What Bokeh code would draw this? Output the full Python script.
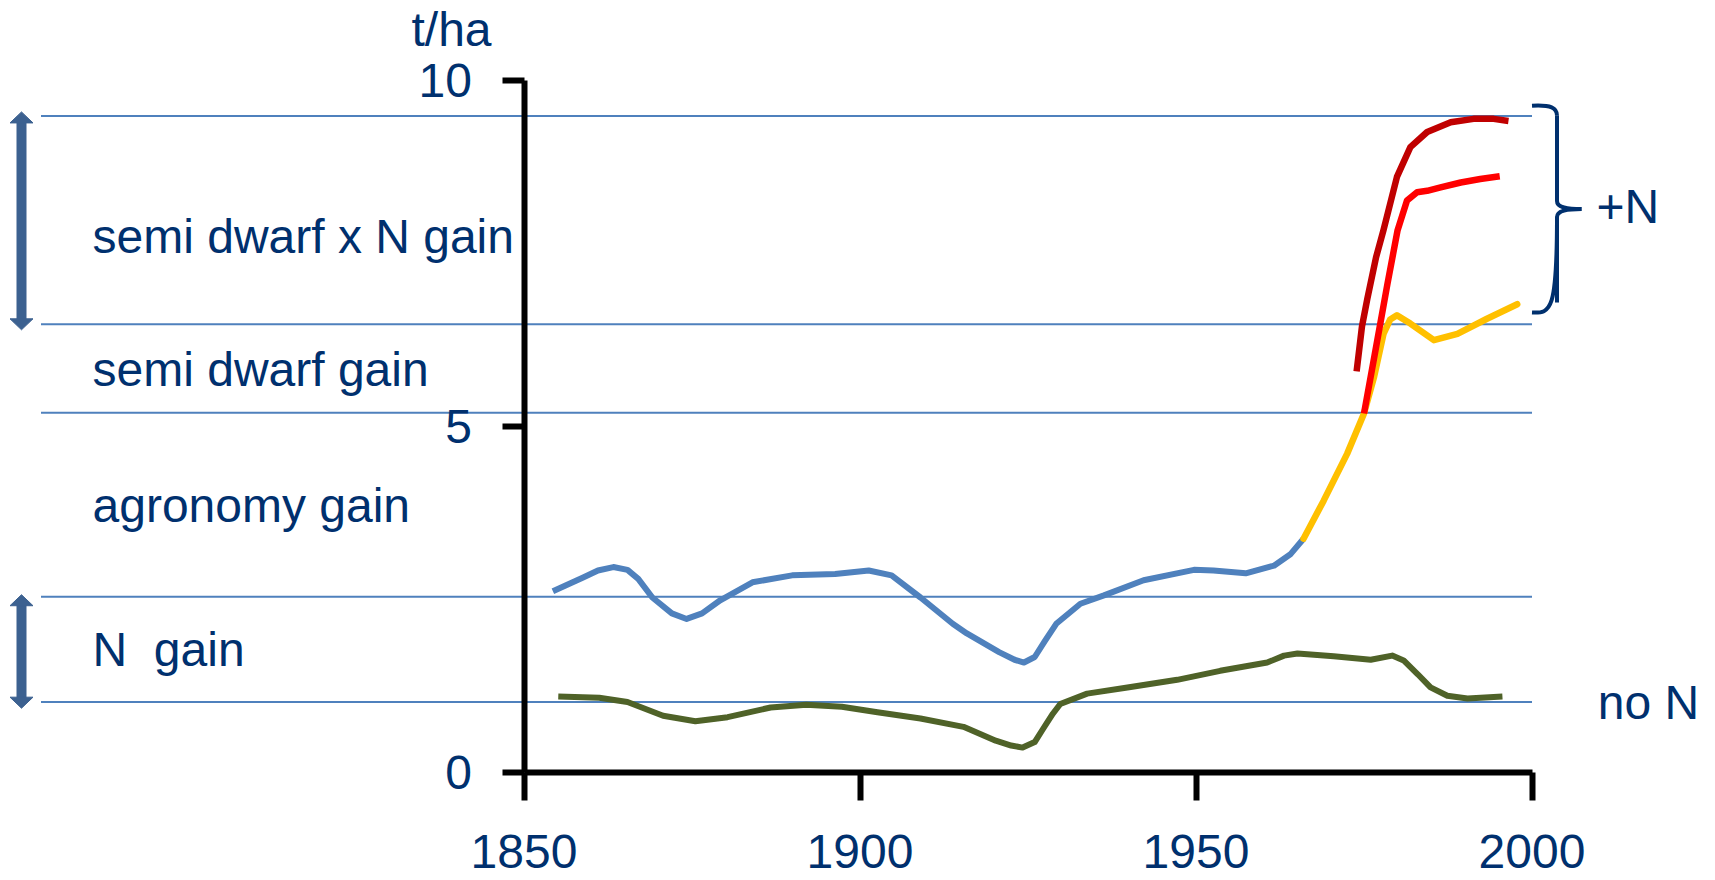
from bokeh.plotting import figure
from bokeh.models import LinearAxis, FixedTicker, Range1d
from bokeh.core.properties import value
from bokeh.embed import file_html
from bokeh.resources import INLINE

# ---------------- data ----------------
farm_years = [1854.3, 1858.8, 1861.0, 1863.3, 1865.4, 1867.0, 1869.1, 1872.0, 1874.2,
              1876.5, 1879.2, 1884.0, 1889.9, 1896.3, 1901.3, 1904.7, 1909.0, 1913.8,
              1915.9, 1920.7, 1923.0, 1924.4, 1926.0, 1927.5, 1929.2, 1932.8, 1936.3,
              1942.2, 1949.7, 1952.6, 1957.4, 1961.6, 1964.1, 1966.0]
farm_yield = [2.62, 2.82, 2.92, 2.97, 2.93, 2.80, 2.53, 2.30, 2.22,
              2.30, 2.49, 2.75, 2.85, 2.87, 2.92, 2.85, 2.53, 2.15,
              2.01, 1.74, 1.63, 1.59, 1.67, 1.90, 2.15, 2.44, 2.56,
              2.78, 2.93, 2.92, 2.88, 2.99, 3.16, 3.38]

noN_years = [1855.1, 1861.2, 1865.4, 1870.7, 1875.5, 1880.3, 1886.7, 1892.0, 1897.3,
             1902.6, 1909.0, 1915.4, 1920.2, 1922.5, 1924.2, 1926.0, 1927.3, 1928.7,
             1929.8, 1933.8, 1939.8, 1947.2, 1953.6, 1960.6, 1963.1, 1965.1, 1970.5,
             1976.0, 1979.2, 1980.9, 1983.0, 1984.9, 1987.4, 1990.4, 1995.6]
noN_yield = [1.10, 1.08, 1.02, 0.82, 0.74, 0.80, 0.94, 0.98, 0.95,
             0.87, 0.78, 0.66, 0.46, 0.39, 0.36, 0.44, 0.64, 0.85,
             0.99, 1.14, 1.23, 1.34, 1.47, 1.59, 1.69, 1.72, 1.68,
             1.63, 1.69, 1.62, 1.42, 1.23, 1.11, 1.07, 1.10]

semi_years = [1966.0, 1969.0, 1972.5, 1975.0, 1976.5, 1977.9, 1978.9, 1979.9, 1981.9,
              1985.4, 1988.9, 1993.3, 1997.8]
semi_yield = [3.38, 3.93, 4.61, 5.19, 5.72, 6.34, 6.55, 6.61, 6.49,
              6.25, 6.34, 6.56, 6.77]

plusN_years = [1975.0, 1976.7, 1978.5, 1980.0, 1981.4, 1982.9, 1984.4, 1986.4, 1989.4,
               1992.3, 1995.2]
plusN_yield = [5.19, 6.10, 7.07, 7.84, 8.27, 8.39, 8.41, 8.46, 8.53,
               8.58, 8.62]

semiN_years = [1973.9, 1974.7, 1975.5, 1976.8, 1977.9, 1979.9, 1981.9, 1984.4, 1987.9,
               1991.3, 1994.3, 1996.5]
semiN_yield = [5.80, 6.45, 6.85, 7.45, 7.84, 8.61, 9.04, 9.26, 9.40,
               9.45, 9.45, 9.42]

band_levels = [9.49, 6.48, 5.20, 2.54, 1.02]
band_labels = ["semi dwarf x N gain", "semi dwarf gain", "agronomy gain", "N\u00a0 gain"]
x_ticks = [1850, 1900, 1950, 2000]
y_ticks = [0, 5, 10]
y_unit = "t/ha"
side_labels = ["+N", "no N"]

# ---------------- layout ----------------
W, H = 1715, 880
PX_X1850, PX_X2000 = 523.5, 1531.5     # screenshot pixel columns of 1850 / 2000
PX_Y0, PX_Y10 = 772.0, 80.3            # screenshot pixel rows of 0 / 10
ORIGIN = 0                             # canvas offset in the screenshot
ppx = (PX_X2000 - PX_X1850) / 150.0
ppy = (PX_Y0 - PX_Y10) / 10.0
x0 = 1850 - (PX_X1850 - ORIGIN) / ppx
y1 = (PX_Y0 - ORIGIN) / ppy

def dx(px):
    return px / ppx

def dy(px):
    return px / ppy

NAVY = "#00306E"
FONT = "Liberation Sans"
FS = "48px"
TXT_RAISE = dy(17.5)

p = figure(width=W, height=H, output_backend="svg", toolbar_location=None,
           x_range=Range1d(x0, x0 + W / ppx), y_range=Range1d(y1 - H / ppy, y1),
           x_axis_location=None, y_axis_location=None,
           min_border=0, min_border_left=0, min_border_right=0,
           min_border_top=0, min_border_bottom=0)
p.outline_line_color = None
p.grid.visible = False
p.background_fill_color = "white"
p.border_fill_color = "white"

# axes drawn at fixed data locations
xa = LinearAxis(fixed_location=0, bounds=(1850, 2000), ticker=FixedTicker(ticks=x_ticks))
ya = LinearAxis(fixed_location=1850, bounds=(0, 10), ticker=FixedTicker(ticks=y_ticks))
for ax in (xa, ya):
    ax.axis_line_color = "black"
    ax.axis_line_width = 6
    ax.major_tick_line_color = "black"
    ax.major_tick_line_width = 6
    ax.major_tick_in = 0
    ax.minor_tick_in = 0
    ax.minor_tick_out = 0
    ax.major_label_text_font = FONT
    ax.major_label_text_font_size = FS
    ax.major_label_text_color = NAVY
xa.major_tick_out = 28
xa.major_label_standoff = 34
ya.major_tick_out = 22
ya.major_label_standoff = 30
p.add_layout(xa, "below")
p.add_layout(ya, "left")

# horizontal band lines
line_left = 1850 - dx(PX_X1850 - 40.5)
p.segment(x0=[line_left] * len(band_levels), y0=band_levels,
          x1=[2000] * len(band_levels), y1=band_levels,
          line_color="#4F81BD", line_width=2)

# series
p.line(noN_years, noN_yield, line_color="#4F6228", line_width=6, line_join="round")
p.line(farm_years, farm_yield, line_color="#4F81BD", line_width=6, line_join="round")
p.line(semi_years, semi_yield, line_color="#FFC000", line_width=6.5, line_join="round",
       line_cap="round")
p.line(plusN_years, plusN_yield, line_color="#FF0000", line_width=6.5, line_join="round")
p.line(semiN_years, semiN_yield, line_color="#C00000", line_width=6.5, line_join="round")

# double-headed arrows at the left
ARROW = "#3C6190"
arrow_x = 1850 - dx(PX_X1850 - 21)
arrow_spans = [(9.55, 6.40), (2.57, 0.93)]
hw, hl = dx(11.5), dy(11)
for top, bot in arrow_spans:
    p.segment(x0=[arrow_x], y0=[top - hl * 0.9], x1=[arrow_x], y1=[bot + hl * 0.9],
              line_color=ARROW, line_width=10)
    p.patches(xs=[[arrow_x - hw, arrow_x, arrow_x + hw], [arrow_x - hw, arrow_x, arrow_x + hw]],
              ys=[[top - hl, top, top - hl], [bot + hl, bot, bot + hl]],
              fill_color=ARROW, line_color=ARROW, line_width=1)

# band labels
label_x = 1850 - dx(PX_X1850 - 92)
label_base = [7.50, 5.566, 3.60, 1.518]
p.text(x=[label_x] * len(band_labels), y=[b + TXT_RAISE for b in label_base], text=band_labels,
       text_font=value(FONT), text_font_size=FS, text_color=NAVY,
       text_align="left", text_baseline="alphabetic")

# unit label
p.text(x=[1850 - dx(PX_X1850 - 451)], y=[10.54 + dy(14)], text=[y_unit],
       text_font=value(FONT), text_font_size=FS, text_color=NAVY,
       text_align="center", text_baseline="alphabetic")

# right labels
p.text(x=[2009.6, 2009.8], y=[7.89 + dy(20.5), 0.76 + TXT_RAISE], text=side_labels,
       text_font=value(FONT), text_font_size=FS, text_color=NAVY,
       text_align="left", text_baseline="alphabetic")

# curly brace for +N
brace_top, brace_bot = 9.64, 6.65
brace_mid = (brace_top + brace_bot) / 2
bx0 = 2000
bxv = bx0 + dx(25)
bxt = bx0 + dx(49.5)
BR = dict(line_color=NAVY, line_width=4)
p.bezier(x0=[bx0, bxv, bxt, bxv], y0=[brace_top, brace_mid + dy(8), brace_mid, brace_mid - dy(8)],
         x1=[bxv, bxt, bxv, bx0], y1=[brace_top - dy(10), brace_mid, brace_mid - dy(8), brace_bot],
         cx0=[bx0 + dx(19), bxv, bxv + dx(8), bxv],
         cy0=[brace_top + dy(1), brace_mid + dy(2), brace_mid, brace_bot + dy(2)],
         cx1=[bxv, bxv + dx(8), bxv, bx0 + dx(19)],
         cy1=[brace_top - dy(2), brace_mid, brace_mid - dy(2), brace_bot - dy(1)], **BR)
p.segment(x0=[bxv, bxv], y0=[brace_top - dy(10), brace_mid - dy(8)],
          x1=[bxv, bxv], y1=[brace_mid + dy(8), brace_bot + dy(10)], **BR)

open("out.html", "w").write(file_html(p, INLINE))
